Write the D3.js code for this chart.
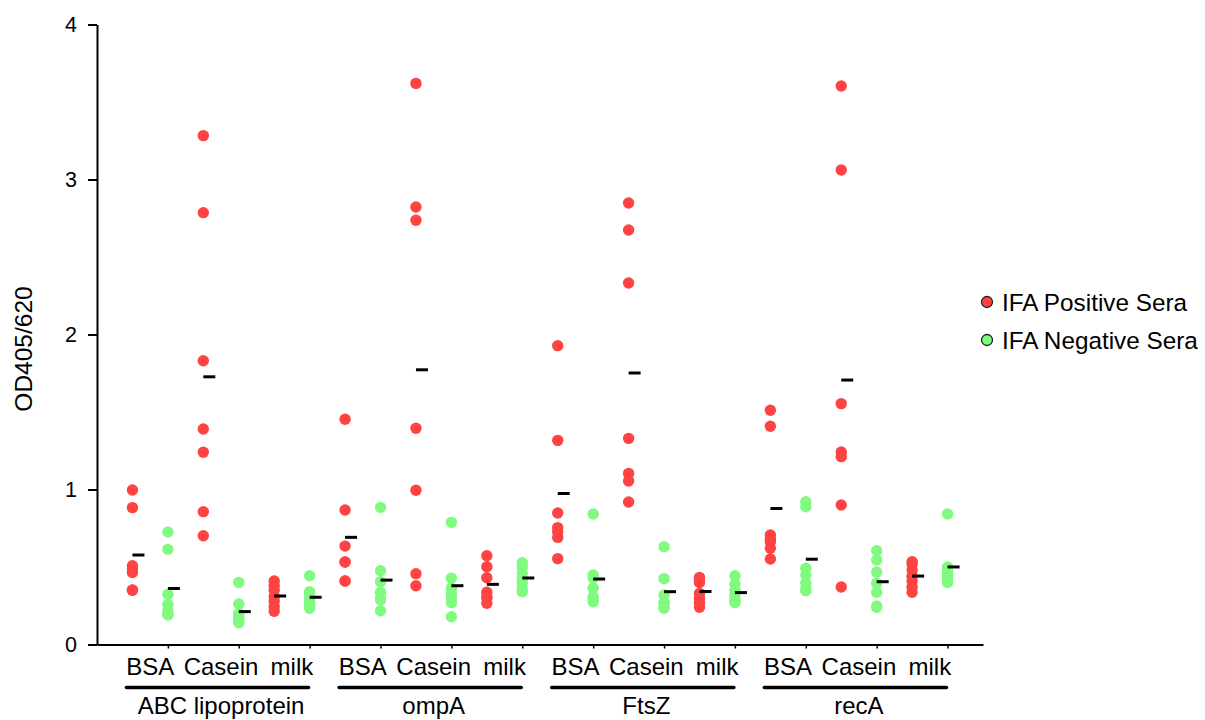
<!DOCTYPE html>
<html>
<head>
<meta charset="utf-8">
<script src="https://cdn.jsdelivr.net/npm/d3@7/dist/d3.min.js"></script>
<style>
  html, body { margin: 0; padding: 0; background: #fff; }
  svg { display: block; font-family: "Liberation Sans", Arial, sans-serif; }
</style>
</head>
<body>
<svg id="chart" width="1205" height="720"></svg>
<script>
// Antigens, blocking agents and serum groups
const proteins = ["ABC lipoprotein", "ompA", "FtsZ", "recA"];
const blockers = ["BSA", "Casein", "milk"];
const sera = ["IFA Positive Sera", "IFA Negative Sera"];
const seraColors = ["#ff4343", "#80fb80"];
const yTicks = [0, 1, 2, 3, 4];

// OD405/620 readings, one list per blocking agent (BSA, Casein, milk)
const abcPositive = [
  [0.997, 0.883, 0.508, 0.487, 0.464, 0.352, 0.350],
  [3.283, 2.786, 1.831, 1.390, 1.240, 0.857, 0.702],
  [0.410, 0.380, 0.350, 0.310, 0.280, 0.245, 0.215]
];
const abcNegative = [
  [0.726, 0.614, 0.324, 0.259, 0.216, 0.200, 0.190],
  [0.401, 0.261, 0.200, 0.180, 0.158, 0.145, 0.140],
  [0.444, 0.340, 0.320, 0.290, 0.260, 0.245, 0.234]
];
const ompAPositive = [
  [1.453, 0.868, 0.635, 0.532, 0.532, 0.410, 0.410],
  [3.620, 2.823, 2.737, 1.395, 0.995, 0.457, 0.379],
  [0.573, 0.502, 0.431, 0.337, 0.308, 0.300, 0.266]
];
const ompANegative = [
  [0.885, 0.476, 0.405, 0.337, 0.300, 0.287, 0.218],
  [0.788, 0.427, 0.363, 0.330, 0.298, 0.270, 0.179],
  [0.528, 0.500, 0.459, 0.420, 0.395, 0.360, 0.341]
];
const ftsZPositive = [
  [1.928, 1.317, 0.848, 0.754, 0.728, 0.691, 0.554],
  [2.848, 2.674, 2.332, 1.330, 1.104, 1.055, 0.919],
  [0.433, 0.420, 0.400, 0.330, 0.300, 0.270, 0.240]
];
const ftsZNegative = [
  [0.842, 0.448, 0.430, 0.363, 0.308, 0.290, 0.276],
  [0.631, 0.425, 0.319, 0.270, 0.266, 0.240, 0.234],
  [0.444, 0.390, 0.350, 0.320, 0.290, 0.280, 0.270]
];
const recAPositive = [
  [1.511, 1.408, 0.706, 0.680, 0.663, 0.621, 0.552],
  [3.603, 3.061, 1.554, 1.242, 1.212, 0.900, 0.371],
  [0.534, 0.520, 0.480, 0.440, 0.410, 0.370, 0.337]
];
const recANegative = [
  [0.921, 0.889, 0.492, 0.448, 0.395, 0.360, 0.347],
  [0.605, 0.545, 0.466, 0.395, 0.337, 0.248, 0.240],
  [0.842, 0.500, 0.470, 0.450, 0.430, 0.410, 0.400]
];

const positiveByProtein = [abcPositive, ompAPositive, ftsZPositive, recAPositive];
const negativeByProtein = [abcNegative, ompANegative, ftsZNegative, recANegative];

// One column per protein x blocker x serum group
const columns = [];
proteins.forEach((p, pi) => {
  blockers.forEach((b, bi) => {
    [positiveByProtein[pi][bi], negativeByProtein[pi][bi]].forEach((vals, si) => {
      columns.push({ protein: p, blocker: b, serum: si, slot: pi * 6 + bi * 2 + si + 1, values: vals });
    });
  });
});

const svg = d3.select("#chart");
const x = d3.scaleLinear().domain([0, columns.length + 1]).range([97, 983]);
const y = d3.scaleLinear().domain([0, 4]).range([644.5, 24.5]);

// Y axis
const yAxis = svg.append("g")
  .attr("transform", `translate(${x(0)},0)`)
  .call(d3.axisLeft(y).tickValues(yTicks).tickFormat(d3.format("d")).tickSize(9).tickPadding(11).tickSizeOuter(0));
yAxis.select(".domain").attr("stroke", "#000").attr("stroke-width", 2);
yAxis.selectAll(".tick line").attr("stroke", "#000").attr("stroke-width", 2);
yAxis.selectAll(".tick text").attr("font-size", 21.5).attr("fill", "#000")
  .attr("font-family", "'Liberation Sans', Arial, sans-serif");

// X axis with small ticks after each positive/negative pair
const pairTicks = columns.filter(c => c.serum === 1).map(c => c.slot);
const xAxis = svg.append("g")
  .attr("transform", `translate(0,${y(0)})`)
  .call(d3.axisBottom(x).tickValues(pairTicks).tickFormat("").tickSize(4).tickSizeOuter(0));
xAxis.select(".domain").attr("stroke", "#000").attr("stroke-width", 2);
xAxis.selectAll(".tick line").attr("stroke", "#000").attr("stroke-width", 1.5);

// Y axis title
svg.append("text")
  .attr("transform", `translate(32,349) rotate(-90)`)
  .attr("text-anchor", "middle")
  .attr("font-size", 24.5)
  .attr("fill", "#000")
  .text("OD405/620");

// Individual sera
const pts = [];
columns.forEach(c => c.values.forEach(v => pts.push({ slot: c.slot, serum: c.serum, v })));
svg.append("g").selectAll("circle").data(pts).join("circle")
  .attr("cx", d => x(d.slot))
  .attr("cy", d => y(d.v))
  .attr("r", 5.7)
  .attr("fill", d => seraColors[d.serum]);

// Mean markers
svg.append("g").selectAll("line").data(columns).join("line")
  .attr("x1", d => x(d.slot))
  .attr("x2", d => x(d.slot) + 12)
  .attr("y1", d => y(d3.mean(d.values)))
  .attr("y2", d => y(d3.mean(d.values)))
  .attr("stroke", "#000")
  .attr("stroke-width", 3);

// Blocker labels under each pair
const blockerLabels = [];
proteins.forEach((p, pi) => blockers.forEach((b, bi) => blockerLabels.push({ text: b, pos: pi * 6 + bi * 2 + 1.5 })));
svg.append("g").selectAll("text").data(blockerLabels).join("text")
  .attr("x", d => x(d.pos))
  .attr("y", 675)
  .attr("text-anchor", "middle")
  .attr("font-size", 24)
  .attr("fill", "#000")
  .text(d => d.text);

// Protein group brackets and names
const groups = svg.append("g");
proteins.forEach((p, pi) => {
  groups.append("line")
    .attr("x1", x(pi * 6 + 0.83))
    .attr("x2", x(pi * 6 + 5.97))
    .attr("y1", 687.5).attr("y2", 687.5)
    .attr("stroke", "#000")
    .attr("stroke-width", 3.5)
    .attr("stroke-linecap", "round");
  groups.append("text")
    .attr("x", x(pi * 6 + 3.5))
    .attr("y", 714)
    .attr("text-anchor", "middle")
    .attr("font-size", 24)
    .attr("fill", "#000")
    .text(p);
});

// Legend
const legend = svg.append("g").selectAll("g").data(sera).join("g")
  .attr("transform", (d, i) => `translate(987,${302 + i * 38})`);
legend.append("circle")
  .attr("r", 5.5)
  .attr("fill", (d, i) => seraColors[i])
  .attr("stroke", "#222")
  .attr("stroke-width", 1.3);
legend.append("text")
  .attr("x", 15)
  .attr("y", 8.5)
  .attr("font-size", 24.3)
  .attr("fill", "#000")
  .text(d => d);
</script>
</body>
</html>
